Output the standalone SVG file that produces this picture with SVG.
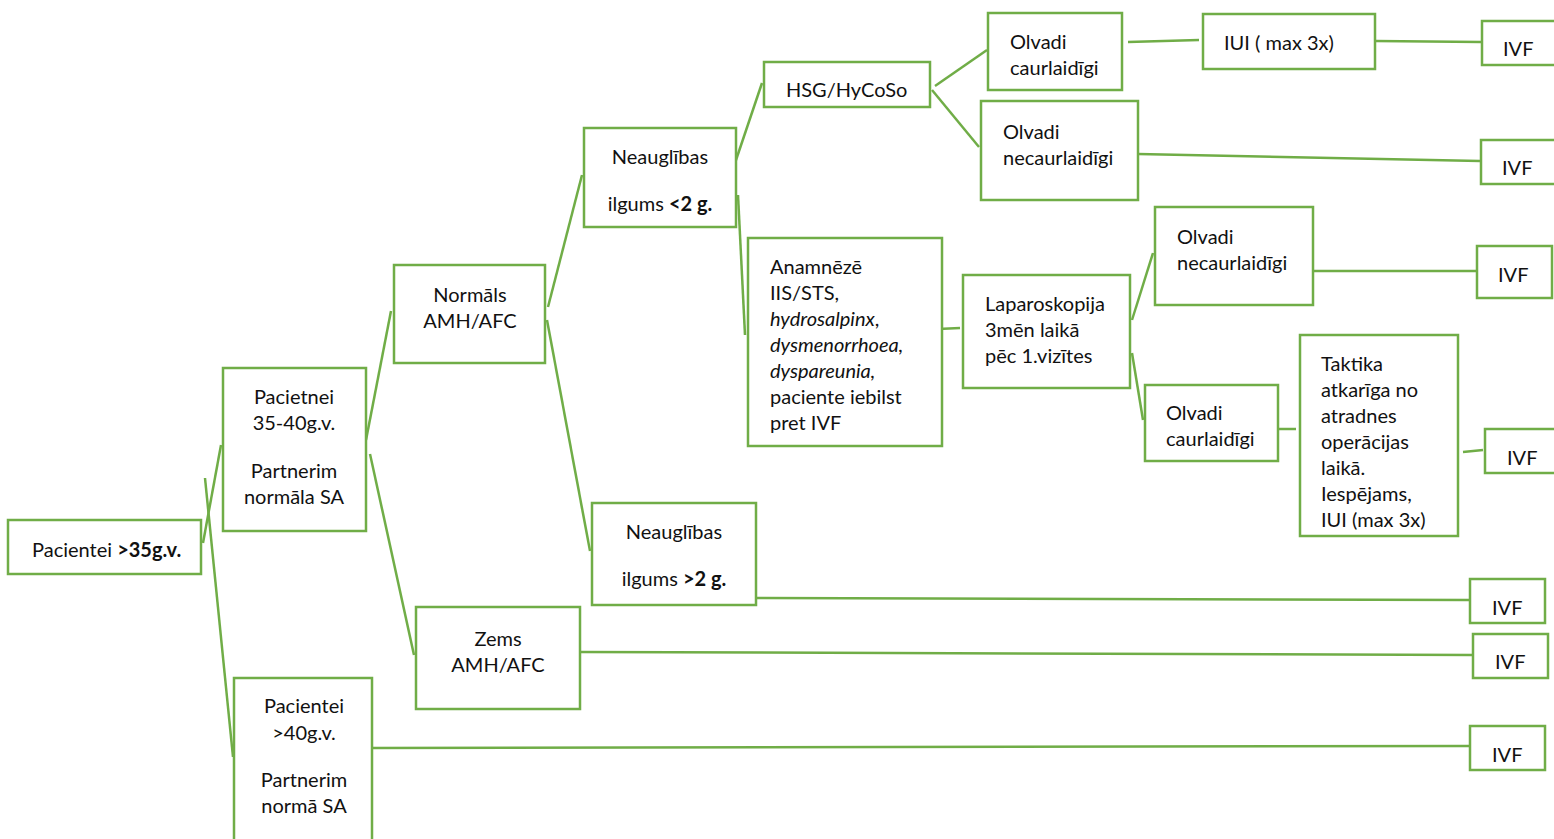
<svg xmlns="http://www.w3.org/2000/svg" width="1554" height="839" viewBox="0 0 1554 839">
<style>
.b{fill:#fff;stroke:#70AD47;stroke-width:2.5}
.c line{stroke:#70AD47;stroke-width:2.5}
text{font-family:Lato,"Noto Sans",sans-serif;font-size:20px;fill:#111}
.m{text-anchor:middle}
.bd{font-weight:bold}
.it{font-style:italic}
</style>
<rect width="1554" height="839" fill="#fff"/>
<g class="c">
<line x1="203" y1="543" x2="221" y2="445"/>
<line x1="205" y1="478" x2="233" y2="757"/>
<line x1="366" y1="440" x2="391" y2="311"/>
<line x1="370" y1="454" x2="414" y2="655"/>
<line x1="548" y1="307" x2="582" y2="175"/>
<line x1="547" y1="320" x2="590" y2="551"/>
<line x1="735" y1="163" x2="762" y2="83"/>
<line x1="738" y1="195" x2="745" y2="335"/>
<line x1="935" y1="86" x2="987" y2="50"/>
<line x1="932" y1="90" x2="979" y2="147"/>
<line x1="1128" y1="42" x2="1199" y2="40"/>
<line x1="1375" y1="41" x2="1481" y2="42"/>
<line x1="1138" y1="154" x2="1480" y2="161"/>
<line x1="938" y1="329" x2="960" y2="328"/>
<line x1="1132" y1="320" x2="1153" y2="253"/>
<line x1="1132" y1="353" x2="1143" y2="420"/>
<line x1="1313" y1="271" x2="1476" y2="271"/>
<line x1="1278" y1="429" x2="1296" y2="429"/>
<line x1="1463" y1="452" x2="1483" y2="450"/>
<line x1="756" y1="598" x2="1469" y2="600"/>
<line x1="580" y1="652" x2="1473" y2="655"/>
<line x1="369" y1="748" x2="1470" y2="746"/>
</g>
<g id="n1"><rect class="b" x="8" y="520" width="193" height="54"/><text x="32" y="557">Pacientei <tspan class="bd">&gt;35g.v.</tspan></text></g>
<g id="n2"><rect class="b" x="223" y="368" width="143" height="163"/><text class="m" x="294" y="404">Pacietnei</text><text class="m" x="294" y="430">35-40g.v.</text><text class="m" x="294" y="478">Partnerim</text><text class="m" x="294" y="504">normāla SA</text></g>
<g id="n3"><rect class="b" x="234" y="678" width="138" height="170"/><text class="m" x="304" y="713">Pacientei</text><text class="m" x="304" y="740">&gt;40g.v.</text><text class="m" x="304" y="787">Partnerim</text><text class="m" x="304" y="813">normā SA</text></g>
<g id="n4"><rect class="b" x="394" y="265" width="151" height="98"/><text class="m" x="470" y="302">Normāls</text><text class="m" x="470" y="328">AMH/AFC</text></g>
<g id="n5"><rect class="b" x="416" y="607" width="164" height="102"/><text class="m" x="498" y="646">Zems</text><text class="m" x="498" y="672">AMH/AFC</text></g>
<g id="n6"><rect class="b" x="584" y="128" width="152" height="99"/><text class="m" x="660" y="164">Neauglības</text><text class="m" x="660" y="211">ilgums <tspan class="bd">&lt;2 g.</tspan></text></g>
<g id="n7"><rect class="b" x="592" y="503" width="164" height="102"/><text class="m" x="674" y="539">Neauglības</text><text class="m" x="674" y="586">ilgums <tspan class="bd">&gt;2 g.</tspan></text></g>
<g id="n8"><rect class="b" x="764" y="62" width="166" height="45"/><text x="786" y="97">HSG/HyCoSo</text></g>
<g id="n9"><rect class="b" x="988" y="13" width="134" height="77"/><text x="1010" y="49">Olvadi</text><text x="1010" y="75">caurlaidīgi</text></g>
<g id="n10"><rect class="b" x="981" y="101" width="157" height="99"/><text x="1003" y="139">Olvadi</text><text x="1003" y="165">necaurlaidīgi</text></g>
<g id="n11"><rect class="b" x="1203" y="14" width="172" height="55"/><text x="1224" y="50">IUI ( max 3x)</text></g>
<g id="n12"><rect class="b" x="1482" y="21" width="80" height="44"/><text x="1503" y="56">IVF</text></g>
<g id="n13"><rect class="b" x="1481" y="140" width="80" height="44"/><text x="1502" y="175">IVF</text></g>
<g id="n14"><rect class="b" x="748" y="238" width="194" height="208"/><text x="770" y="274">Anamnēzē</text><text x="770" y="300">IIS/STS,</text><text x="770" y="326"><tspan class="it">hydrosalpinx</tspan>,</text><text x="770" y="352" class="it">dysmenorrhoea,</text><text x="770" y="378" class="it">dyspareunia,</text><text x="770" y="404">paciente iebilst</text><text x="770" y="430">pret IVF</text></g>
<g id="n15"><rect class="b" x="963" y="275" width="167" height="113"/><text x="985" y="311">Laparoskopija</text><text x="985" y="337">3mēn laikā</text><text x="985" y="363">pēc 1.vizītes</text></g>
<g id="n16"><rect class="b" x="1155" y="207" width="158" height="98"/><text x="1177" y="244">Olvadi</text><text x="1177" y="270">necaurlaidīgi</text></g>
<g id="n17"><rect class="b" x="1477" y="246" width="75" height="52"/><text x="1498" y="282">IVF</text></g>
<g id="n18"><rect class="b" x="1145" y="385" width="133" height="76"/><text x="1166" y="420">Olvadi</text><text x="1166" y="446">caurlaidīgi</text></g>
<g id="n19"><rect class="b" x="1300" y="335" width="158" height="201"/><text x="1321" y="371">Taktika</text><text x="1321" y="397">atkarīga no</text><text x="1321" y="423">atradnes</text><text x="1321" y="449">operācijas</text><text x="1321" y="475">laikā.</text><text x="1321" y="501">Iespējams,</text><text x="1321" y="527">IUI (max 3x)</text></g>
<g id="n20"><rect class="b" x="1485" y="429" width="80" height="44"/><text x="1507" y="465">IVF</text></g>
<g id="n21"><rect class="b" x="1470" y="579" width="75" height="44"/><text x="1492" y="615">IVF</text></g>
<g id="n22"><rect class="b" x="1473" y="634" width="75" height="44"/><text x="1495" y="669">IVF</text></g>
<g id="n23"><rect class="b" x="1470" y="726" width="75" height="44"/><text x="1492" y="762">IVF</text></g>
</svg>
